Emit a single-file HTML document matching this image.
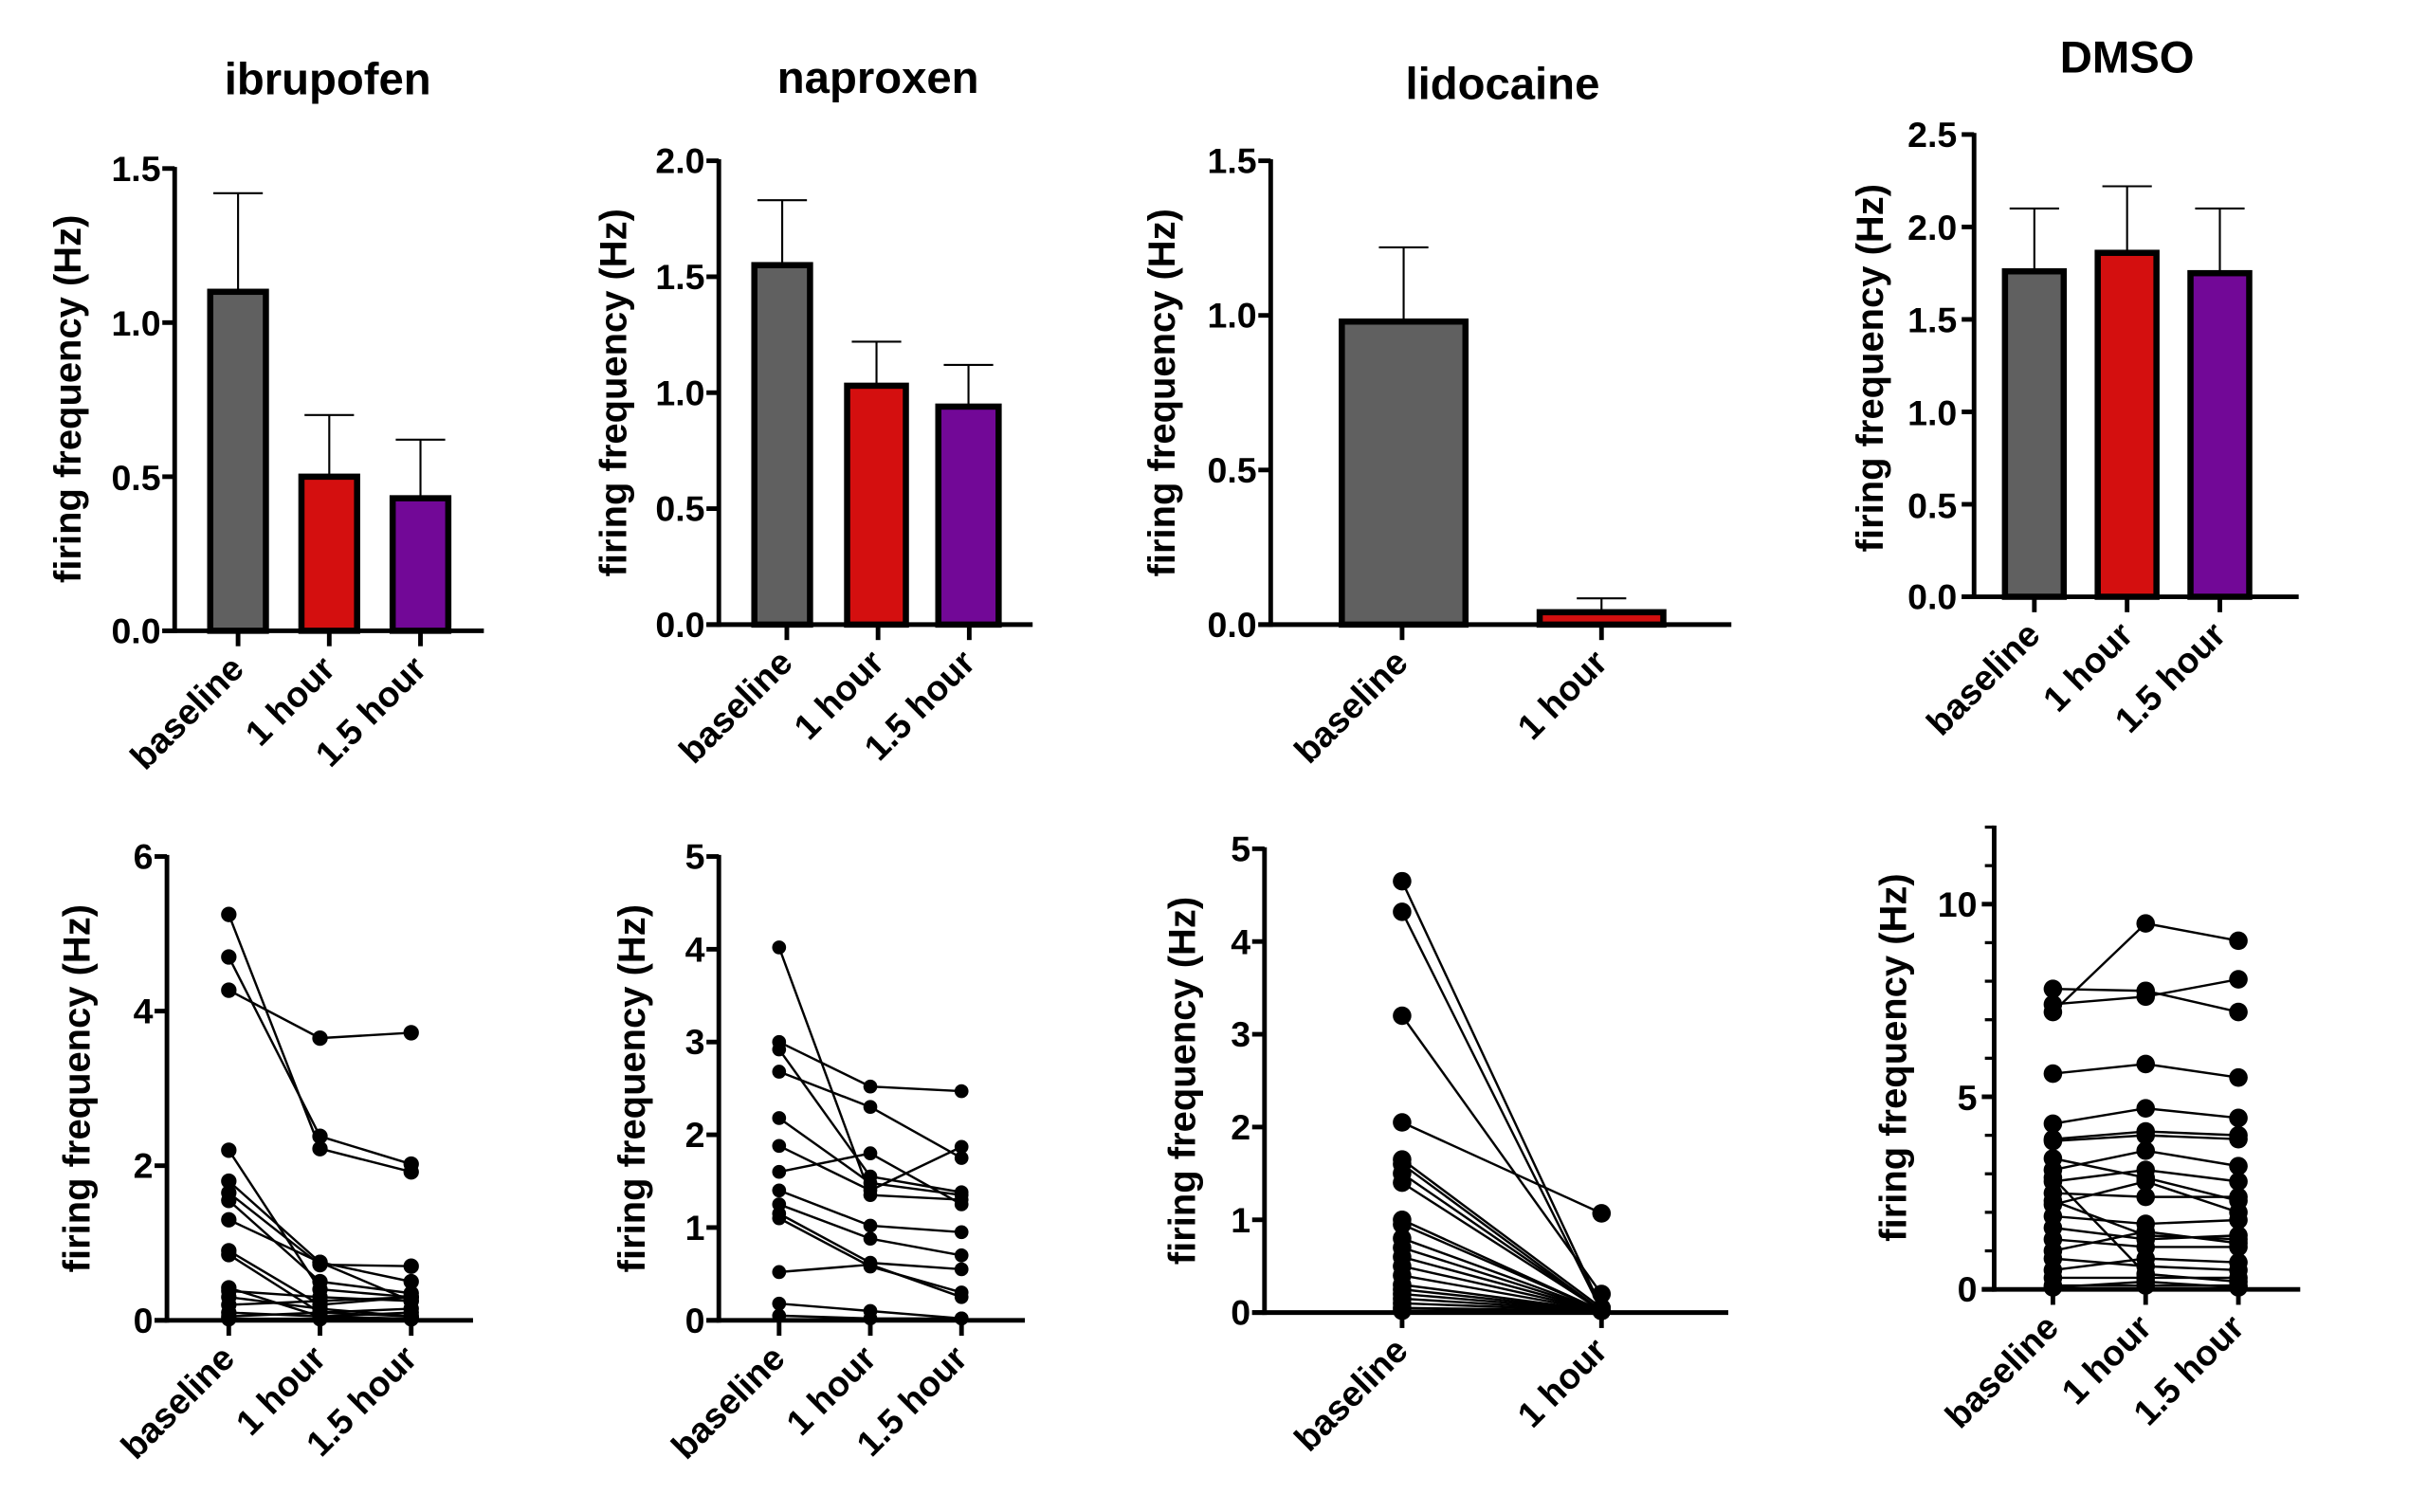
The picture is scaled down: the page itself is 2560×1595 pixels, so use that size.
<!DOCTYPE html>
<html><head><meta charset="utf-8">
<style>
html,body{margin:0;padding:0;background:#fff;}
svg{display:block;}
text{font-family:"Liberation Sans",Arial,sans-serif;font-weight:bold;fill:#000;}
.t{font-size:29px;text-anchor:middle;}
.tk{font-size:23px;text-anchor:end;}
.yl{font-size:24.5px;text-anchor:middle;}
.xl{font-size:23px;text-anchor:end;}
</style></head>
<body>
<svg id="s" width="2560" height="1595" viewBox="0 0 1570 978" preserveAspectRatio="none" xmlns="http://www.w3.org/2000/svg">
<g id="g"></g>
<text class="t" x="212" y="61">ibrupofen</text>
<text class="t" x="568" y="60">naproxen</text>
<text class="t" x="972" y="64">lidocaine</text>
<text class="t" x="1376" y="47">DMSO</text>
<text class="yl" transform="translate(52,258) rotate(-90)">firing frequency (Hz)</text>
<text class="yl" transform="translate(405,254) rotate(-90)">firing frequency (Hz)</text>
<text class="yl" transform="translate(760,254) rotate(-90)">firing frequency (Hz)</text>
<text class="yl" transform="translate(1218,238) rotate(-90)">firing frequency (Hz)</text>
<text class="yl" transform="translate(58,704) rotate(-90)">firing frequency (Hz)</text>
<text class="yl" transform="translate(417,704) rotate(-90)">firing frequency (Hz)</text>
<text class="yl" transform="translate(773,699) rotate(-90)">firing frequency (Hz)</text>
<text class="yl" transform="translate(1233,684) rotate(-90)">firing frequency (Hz)</text>
<text class="tk" x="104" y="117">1.5</text><text class="tk" x="104" y="217">1.0</text><text class="tk" x="104" y="317">0.5</text><text class="tk" x="104" y="416">0.0</text>
<text class="tk" x="456" y="112">2.0</text><text class="tk" x="456" y="187">1.5</text><text class="tk" x="456" y="262">1.0</text><text class="tk" x="456" y="337">0.5</text><text class="tk" x="456" y="412">0.0</text>
<text class="tk" x="813" y="112">1.5</text><text class="tk" x="813" y="212">1.0</text><text class="tk" x="813" y="312">0.5</text><text class="tk" x="813" y="412">0.0</text>
<text class="tk" x="1266" y="95">2.5</text><text class="tk" x="1266" y="155">2.0</text><text class="tk" x="1266" y="215">1.5</text><text class="tk" x="1266" y="275">1.0</text><text class="tk" x="1266" y="335">0.5</text><text class="tk" x="1266" y="394">0.0</text>
<text class="tk" x="99" y="562">6</text><text class="tk" x="99" y="662">4</text><text class="tk" x="99" y="762">2</text><text class="tk" x="99" y="862">0</text>
<text class="tk" x="456" y="562">5</text><text class="tk" x="456" y="622">4</text><text class="tk" x="456" y="682">3</text><text class="tk" x="456" y="742">2</text><text class="tk" x="456" y="802">1</text><text class="tk" x="456" y="862">0</text>
<text class="tk" x="809" y="557">5</text><text class="tk" x="809" y="617">4</text><text class="tk" x="809" y="677">3</text><text class="tk" x="809" y="737">2</text><text class="tk" x="809" y="797">1</text><text class="tk" x="809" y="857">0</text>
<text class="tk" x="1279" y="593">10</text><text class="tk" x="1279" y="718">5</text><text class="tk" x="1279" y="842">0</text>
<text class="xl" transform="translate(159,434) rotate(-45)">baseline</text>
<text class="xl" transform="translate(218,434) rotate(-45)">1 hour</text>
<text class="xl" transform="translate(277,434) rotate(-45)">1.5 hour</text>
<text class="xl" transform="translate(514,430) rotate(-45)">baseline</text>
<text class="xl" transform="translate(573,430) rotate(-45)">1 hour</text>
<text class="xl" transform="translate(632,430) rotate(-45)">1.5 hour</text>
<text class="xl" transform="translate(912,430) rotate(-45)">baseline</text>
<text class="xl" transform="translate(1041,430) rotate(-45)">1 hour</text>
<text class="xl" transform="translate(1321,412) rotate(-45)">baseline</text>
<text class="xl" transform="translate(1381,412) rotate(-45)">1 hour</text>
<text class="xl" transform="translate(1441,412) rotate(-45)">1.5 hour</text>
<text class="xl" transform="translate(153,880) rotate(-45)">baseline</text>
<text class="xl" transform="translate(212,880) rotate(-45)">1 hour</text>
<text class="xl" transform="translate(271,880) rotate(-45)">1.5 hour</text>
<text class="xl" transform="translate(509,880) rotate(-45)">baseline</text>
<text class="xl" transform="translate(568,880) rotate(-45)">1 hour</text>
<text class="xl" transform="translate(627,880) rotate(-45)">1.5 hour</text>
<text class="xl" transform="translate(912,875) rotate(-45)">baseline</text>
<text class="xl" transform="translate(1041,875) rotate(-45)">1 hour</text>
<text class="xl" transform="translate(1333,860) rotate(-45)">baseline</text>
<text class="xl" transform="translate(1393,860) rotate(-45)">1 hour</text>
<text class="xl" transform="translate(1453,860) rotate(-45)">1.5 hour</text>
</svg>
<script>
var g=document.getElementById('g'),NS='http://www.w3.org/2000/svg';
function el(n,a){var e=document.createElementNS(NS,n);for(var k in a)e.setAttribute(k,a[k]);g.appendChild(e);return e;}
function L(x1,y1,x2,y2,w){el('line',{x1:x1,y1:y1,x2:x2,y2:y2,stroke:'#000','stroke-width':w||1});}
function axes(ax,y0,yt,vmax,xend,ticks,xt,minor){
  L(ax,yt-1,ax,y0+1.5,3);L(ax-8,y0,xend,y0,3);
  ticks.forEach(function(v){var y=y0-(y0-yt)*v/vmax;L(ax-8,y,ax,y,3);});
  if(minor)minor.forEach(function(v){var y=y0-(y0-yt)*v/vmax;L(ax-6,y,ax,y,2);});
  xt.forEach(function(x){L(x,y0,x,y0+10,3);});
}
function bars(y0,yt,vmax,list){
  list.forEach(function(b){var s=(y0-yt)/vmax,top=y0-b.v*s,et=y0-b.e*s,cx=(b.x1+b.x2)/2;
    L(cx,et,cx,top,1.3);L(cx-16,et,cx+16,et,1.3);
    el('rect',{x:b.x1,y:top,width:b.x2-b.x1,height:y0-top,fill:b.c,stroke:'#000','stroke-width':4});});
}
var G='#606060',R='#d40f0f',P='#720897';
axes(113,408,109,1.5,313,[0,0.5,1,1.5],[154,213,272]);
bars(408,109,1.5,[{x1:136,x2:172,v:1.1,e:1.42,c:G},{x1:195,x2:231,v:0.5,e:0.70,c:R},{x1:254,x2:290,v:0.43,e:0.62,c:P}]);
axes(465,404,104,2,668,[0,0.5,1,1.5,2],[509,568,627]);
bars(404,104,2,[{x1:488,x2:524,v:1.55,e:1.83,c:G},{x1:548,x2:586,v:1.03,e:1.22,c:R},{x1:607,x2:646,v:0.94,e:1.12,c:P}]);
axes(822,404,104,1.5,1120,[0,0.5,1,1.5],[907,1036]);
bars(404,104,1.5,[{x1:868,x2:948,v:0.98,e:1.22,c:G},{x1:996,x2:1076,v:0.04,e:0.085,c:R}]);
axes(1277,386,87,2.5,1487,[0,0.5,1,1.5,2,2.5],[1316,1376,1436]);
bars(386,87,2.5,[{x1:1297,x2:1335,v:1.76,e:2.1,c:G},{x1:1357,x2:1395,v:1.86,e:2.22,c:R},{x1:1417,x2:1455,v:1.75,e:2.1,c:P}]);
function pts(xs,y0,yt,vmax,rows,r){var s=(y0-yt)/vmax;
  rows.forEach(function(row){var p=row.map(function(v,i){return [xs[i],y0-v*s];});
    for(var i=1;i<p.length;i++)L(p[i-1][0],p[i-1][1],p[i][0],p[i][1],1.5);
    p.forEach(function(q){el('circle',{cx:q[0],cy:q[1],r:r});});});}
axes(108,854,554,6,306,[0,2,4,6],[148,207,266]);
pts([148,207,266],854,554,6,[[5.25,2.22,1.92],[4.7,2.38,2.02],[4.27,3.65,3.72],[2.2,0.4,0.3],[1.8,0.75,0.5],[1.65,0.72,0.7],[1.55,0.5,0.35],[1.3,0.75,0.25],[0.9,0.2,0.3],[0.85,0.1,0.15],[0.42,0.05,0.1],[0.38,0.3,0.25],[0.3,0.15,0.05],[0.2,0.25,0.3],[0.1,0.05,0.02],[0.05,0.1,0.05],[0.02,0.02,0.02]],5);
axes(465,854,554,5,663,[0,1,2,3,4,5],[504,563,622]);
pts([504,563,622],854,554,5,[[4.02,1.35,1.3],[3.0,2.52,2.47],[2.92,1.55,1.38],[2.68,2.3,1.75],[2.18,1.48,1.35],[1.88,1.4,1.87],[1.6,1.8,1.25],[1.4,1.02,0.95],[1.25,0.88,0.7],[1.15,0.62,0.55],[1.1,0.58,0.3],[0.52,0.6,0.25],[0.18,0.1,0.02],[0.05,0.02,0.02]],4.5);
axes(818,849,549,5,1118,[0,1,2,3,4,5],[907,1036]);
pts([907,1036],849,549,5,[[4.65,0.05],[4.32,0.02],[3.2,0.2],[2.05,1.07],[1.65,0.05],[1.6,0.02],[1.5,0.02],[1.4,0.02],[1.0,0.02],[0.95,0.02],[0.8,0.02],[0.7,0.02],[0.6,0.02],[0.5,0.02],[0.4,0.02],[0.3,0.02],[0.25,0.02],[0.2,0.02],[0.15,0.02],[0.1,0.02],[0.05,0.02],[0.02,0.02]],6);
axes(1290,834,535,12,1488,[0,5,10],[1328,1388,1448],[1,2,3,4,6,7,8,9,11,12]);
pts([1328,1388,1448],834,535,12,[[7.2,9.5,9.05],[7.8,7.75,7.2],[7.4,7.6,8.05],[5.6,5.85,5.5],[4.3,4.7,4.45],[3.9,4.1,4.0],[3.85,4.0,3.9],[3.4,2.9,2.3],[3.1,3.6,3.2],[2.8,3.1,2.8],[2.5,2.4,2.4],[2.2,2.8,2.0],[1.9,1.7,1.8],[1.6,1.3,1.4],[1.3,1.1,1.1],[1.0,1.5,1.2],[0.8,0.6,0.5],[0.5,0.8,0.7],[0.3,0.3,0.3],[0.1,0.1,0.1],[2.9,0.4,0.2],[2.3,1.4,1.3],[0.05,0.2,0.05]],6);
</script>
</body></html>
